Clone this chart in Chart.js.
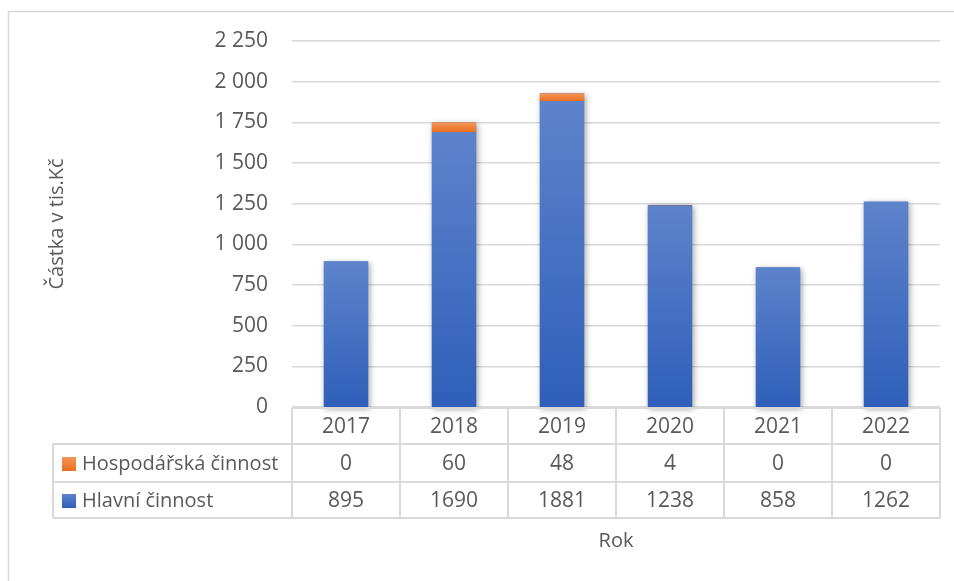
<!DOCTYPE html>
<html lang="cs">
<head>
<meta charset="utf-8">
<title>Částka v tis.Kč podle roku</title>
<script src="https://cdn.jsdelivr.net/npm/chart.js@4.4.0/dist/chart.umd.min.js"></script>
<style>
  html, body { margin: 0; padding: 0; background: #fff; }
  canvas { display: block; }
</style>
</head>
<body>
<canvas id="chart" width="954" height="581"></canvas>
<script>
const years = ["2017", "2018", "2019", "2020", "2021", "2022"];
const hlavniCinnost = [895, 1690, 1881, 1238, 858, 1262];
const hospodarskaCinnost = [0, 60, 48, 4, 0, 0];
const seriesNames = ["Hospodářská činnost", "Hlavní činnost"];

const FONT = "'Open Sans', 'Noto Sans', sans-serif";
const TEXT = "#595959";
const LINE = "#d9d9d9";

const BLUE_TOP = "#5d83cb", BLUE_BOTTOM = "#2f5fba";
const ORANGE_TOP = "#f4955a", ORANGE_BOTTOM = "#ec6e1e";

// vertical gradient per segment, from the segment's own top to bottom
function segmentGradient(ctx, topColor, bottomColor, lower) {
  const chart = ctx.chart;
  const y = chart.scales.y;
  if (!y || ctx.type !== "data") return bottomColor;
  const i = ctx.dataIndex;
  const base = lower ? lower[i] : 0;
  const yTop = y.getPixelForValue(base + ctx.raw);
  const yBot = y.getPixelForValue(base);
  if (!isFinite(yTop) || !isFinite(yBot) || yTop === yBot) return bottomColor;
  const g = chart.ctx.createLinearGradient(0, yTop, 0, yBot);
  g.addColorStop(0, topColor);
  g.addColorStop(1, bottomColor);
  return g;
}

function thousands(v) {
  return String(v).replace(/\B(?=(\d{3})+(?!\d))/g, " ");
}

// soft shadow behind each whole stack, painted before the bars
const stackShadow = {
  id: "stackShadow",
  beforeDatasetsDraw(chart) {
    const meta = chart.getDatasetMeta(1);
    const y = chart.scales.y;
    const ctx = chart.ctx;
    ctx.save();
    ctx.shadowColor = "rgba(0,0,0,0.35)";
    ctx.shadowBlur = 6;
    ctx.shadowOffsetX = 1.5;
    ctx.shadowOffsetY = 1.5;
    ctx.fillStyle = BLUE_BOTTOM;
    meta.data.forEach((bar, i) => {
      const total = hlavniCinnost[i] + hospodarskaCinnost[i];
      const top = y.getPixelForValue(total);
      const bottom = y.getPixelForValue(0);
      ctx.fillRect(bar.x - bar.width / 2, top, bar.width, bottom - top);
    });
    ctx.restore();
  }
};

// frame, data table under the plot and the x axis title
const dataTable = {
  id: "dataTable",
  afterDraw(chart) {
    const ctx = chart.ctx;
    const area = chart.chartArea;
    const x = chart.scales.x;
    const colW = (area.right - area.left) / years.length;
    const rowH = 37;
    const r0 = area.bottom + 1;
    const rows = [r0, r0 + rowH - 1, r0 + 2 * rowH, r0 + 3 * rowH - 1];
    const labelLeft = 53;

    ctx.save();
    ctx.strokeStyle = LINE;
    ctx.lineWidth = 1.5;

    // outer frame
    ctx.beginPath();
    ctx.moveTo(8.5, chart.height);
    ctx.lineTo(8.5, 11.5);
    ctx.lineTo(chart.width, 11.5);
    ctx.stroke();

    ctx.lineWidth = 2;
    ctx.beginPath();
    ctx.moveTo(area.left, rows[0]);
    ctx.lineTo(area.right, rows[0]);
    for (let r = 1; r < rows.length; r++) {
      ctx.moveTo(labelLeft, rows[r]);
      ctx.lineTo(area.right, rows[r]);
    }
    ctx.moveTo(labelLeft, rows[1]);
    ctx.lineTo(labelLeft, rows[3]);
    for (let c = 0; c <= years.length; c++) {
      const cx = area.left + c * colW;
      ctx.moveTo(cx, rows[0]);
      ctx.lineTo(cx, rows[3]);
    }
    ctx.stroke();

    ctx.fillStyle = TEXT;
    ctx.font = "21px " + FONT;
    ctx.textBaseline = "middle";
    ctx.textAlign = "center";
    const mid = r => (rows[r] + rows[r + 1]) / 2 + 1;
    years.forEach((yr, i) => {
      const cx = x.getPixelForValue(i);
      ctx.fillText(yr, cx, mid(0));
      ctx.fillText(String(hospodarskaCinnost[i]), cx, mid(1));
      ctx.fillText(String(hlavniCinnost[i]), cx, mid(2));
    });

    // legend keys inside the table
    const keys = [[ORANGE_TOP, ORANGE_BOTTOM], [BLUE_TOP, BLUE_BOTTOM]];
    ctx.font = "20px " + FONT;
    ctx.textAlign = "left";
    seriesNames.forEach((name, k) => {
      const cy = mid(k + 1);
      const g = ctx.createLinearGradient(0, cy - 7, 0, cy + 7);
      g.addColorStop(0, keys[k][0]);
      g.addColorStop(1, keys[k][1]);
      ctx.fillStyle = g;
      ctx.fillRect(62, cy - 7, 14, 14);
      ctx.fillStyle = TEXT;
      ctx.fillText(name, 82, cy);
    });

    ctx.textAlign = "center";
    ctx.fillText("Rok", (area.left + area.right) / 2, 541);
    ctx.restore();
  }
};

new Chart(document.getElementById("chart"), {
  type: "bar",
  data: {
    labels: years,
    datasets: [
      {
        label: seriesNames[1],
        data: hlavniCinnost,
        backgroundColor: c => segmentGradient(c, BLUE_TOP, BLUE_BOTTOM, null),
        borderWidth: 0,
        categoryPercentage: 0.41,
        barPercentage: 1
      },
      {
        label: seriesNames[0],
        data: hospodarskaCinnost,
        backgroundColor: c => segmentGradient(c, ORANGE_TOP, ORANGE_BOTTOM, hlavniCinnost),
        borderWidth: 0,
        categoryPercentage: 0.41,
        barPercentage: 1
      }
    ]
  },
  options: {
    responsive: false,
    animation: false,
    devicePixelRatio: 1,
    layout: { padding: { top: 41, right: 14, bottom: 174, left: 0 } },
    plugins: {
      legend: { display: false },
      tooltip: { enabled: false }
    },
    scales: {
      x: {
        stacked: true,
        display: false
      },
      y: {
        stacked: true,
        min: 0,
        max: 2250,
        afterFit(scale) { scale.width = 292; },
        border: { display: false },
        grid: { color: LINE, lineWidth: 1.5, drawTicks: false },
        ticks: {
          stepSize: 250,
          padding: 24,
          color: TEXT,
          font: { family: FONT, size: 21 },
          callback: v => thousands(v)
        },
        title: {
          display: true,
          text: "Částka v tis.Kč",
          color: TEXT,
          font: { family: FONT, size: 20 },
          padding: { top: 45, bottom: 0 }
        }
      }
    }
  },
  plugins: [stackShadow, dataTable]
});
</script>
</body>
</html>
